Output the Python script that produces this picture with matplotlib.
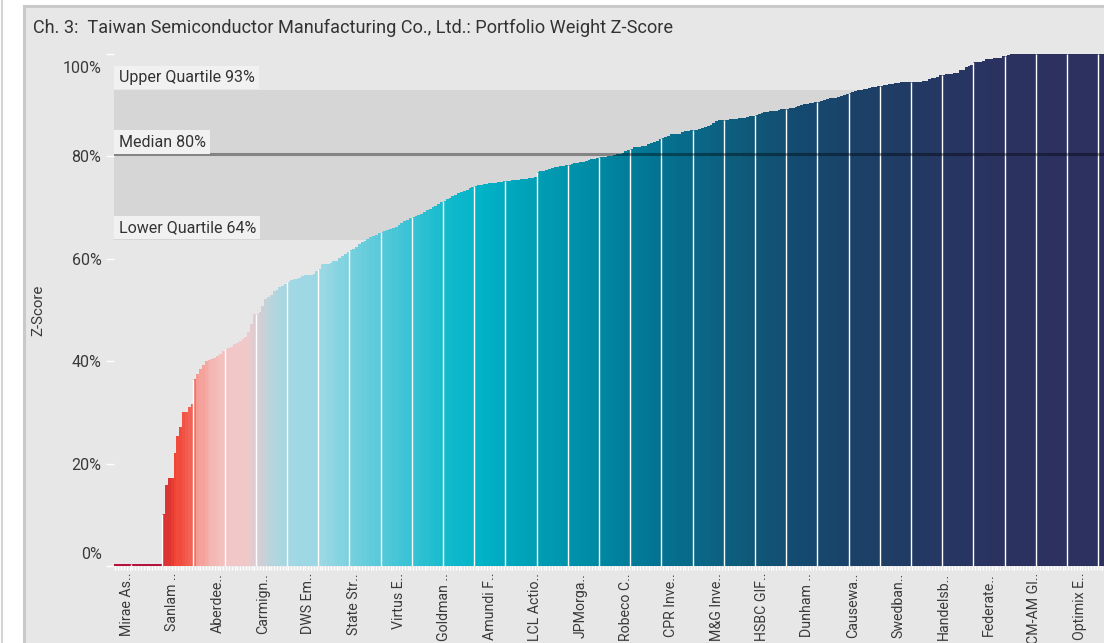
import numpy as np
import matplotlib
matplotlib.use("Agg")
from matplotlib import pyplot as plt
from matplotlib.colors import LinearSegmentedColormap
from matplotlib.patches import Rectangle
from matplotlib.lines import Line2D
from matplotlib.ticker import FuncFormatter, FixedLocator
from matplotlib.transforms import ScaledTranslation

plt.rcParams['font.family'] = ['Roboto', 'DejaVu Sans']

title = 'Ch. 3:  Taiwan Semiconductor Manufacturing Co., Ltd.: Portfolio Weight Z-Score'
y_label = 'Z-Score'

# one bar per fund, sorted ascending (values in %)
z_scores = [
    0, 0, 0, 0, 0, 0, 0, 0, 0, 0, 0, 0, 0, 0, 0, 0,
    0, 10.2, 15.8, 17.2, 17.2, 22.1, 25.4, 27.1, 30.1, 30.1, 31.1, 31.6, 36.5, 37.5, 38.5, 39.3,
    40.0, 40.3, 40.5, 40.7, 41.0, 41.5, 42.0, 42.3, 42.6, 42.8, 43.4, 43.6, 44.0, 44.3, 44.7, 45.7,
    47.3, 49.2, 49.2, 49.6, 50.8, 52.1, 52.5, 52.9, 53.7, 53.9, 54.5, 54.7, 55.1, 55.5, 55.9, 56.1,
    56.1, 56.3, 56.6, 56.8, 56.8, 56.8, 57.0, 57.6, 58.0, 59.0, 59.0, 59.0, 59.2, 59.6, 59.6, 60.2,
    60.5, 61.0, 61.3, 61.7, 62.0, 62.4, 62.8, 63.2, 63.5, 63.9, 64.2, 64.4, 64.7, 65.0, 65.3, 65.5,
    65.7, 65.9, 66.1, 66.3, 66.6, 66.9, 67.3, 67.6, 67.9, 68.1, 68.3, 68.5, 68.8, 69.1, 69.5, 69.8,
    70.1, 70.4, 70.7, 71.0, 71.3, 71.6, 71.9, 72.2, 72.5, 72.8, 73.0, 73.3, 73.5, 73.8, 74.0, 74.2,
    74.4, 74.5, 74.6, 74.7, 74.8, 74.8, 74.9, 75.0, 75.0, 75.1, 75.2, 75.2, 75.3, 75.4, 75.4, 75.5,
    75.6, 75.6, 75.7, 75.8, 76.0, 77.0, 77.1, 77.2, 77.4, 77.6, 77.8, 77.9, 78.0, 78.1, 78.2, 78.3,
    78.4, 78.6, 78.7, 78.8, 78.9, 79.0, 79.1, 79.2, 79.4, 79.5, 79.6, 79.8, 79.9, 79.9, 80.0, 80.1,
    80.3, 80.5, 80.5, 80.7, 81.0, 81.2, 81.4, 81.8, 81.8, 81.9, 82.0, 82.1, 82.4, 82.6, 82.8, 83.0,
    83.4, 83.6, 83.8, 84.0, 84.3, 84.4, 84.4, 84.4, 84.7, 84.9, 85.0, 85.2, 85.2, 85.2, 85.4, 85.5,
    85.7, 85.9, 86.1, 86.6, 87.0, 87.1, 87.1, 87.1, 87.2, 87.3, 87.3, 87.4, 87.5, 87.5, 87.5, 87.6,
    87.9, 87.9, 88.0, 88.2, 88.5, 88.6, 88.7, 88.9, 88.9, 88.9, 89.0, 89.3, 89.3, 89.3, 89.4, 89.5,
    89.6, 89.9, 90.1, 90.2, 90.3, 90.4, 90.5, 90.6, 90.7, 90.8, 91.0, 91.2, 91.4, 91.5, 91.5, 91.6,
    91.7, 91.9, 92.1, 92.3, 92.5, 92.7, 92.9, 93.0, 93.1, 93.2, 93.4, 93.5, 93.6, 93.7, 93.8, 93.9,
    94.0, 94.1, 94.2, 94.3, 94.4, 94.5, 94.5, 94.5, 94.5, 94.5, 94.5, 94.5, 94.6, 94.7, 94.7, 95.1,
    95.3, 95.3, 95.5, 95.9, 95.9, 96.1, 96.1, 96.1, 96.2, 96.3, 96.9, 96.9, 97.5, 97.7, 97.9, 98.4,
    98.4, 98.5, 98.6, 99.0, 99.0, 99.1, 99.2, 99.2, 99.2, 99.6, 99.6, 99.8, 100, 100, 100, 100,
    100, 100, 100, 100, 100, 100, 100, 100, 100, 100, 100, 100, 100, 100, 100, 100,
    100, 100, 100, 100, 100, 100, 100, 100, 100, 100, 100, 100, 100,
]

# every 16th fund gets a label, starting with the 5th
fund_labels = ['Mirae As..', 'Sanlam ..', 'Aberdee..', 'Carmign..', 'DWS Em..', 'State Str..',
               'Virtus E..', 'Goldman ..', 'Amundi F..', 'LCL Actio..', 'JPMorga..', 'Robeco C..',
               'CPR Inve..', 'M&G Inve..', 'HSBC GIF..', 'Dunham ..', 'Causewa..', 'Swedban..',
               'Handelsb..', 'Federate..', 'CM-AM Gl..', 'Optimix E..']

upper_quartile = 93.0
median = 80.4
lower_quartile = 63.7

values = np.array(z_scores, dtype=float)
n = len(values)
x = np.arange(n)

# gradient along the sorted funds
stops = [(0.00, '#d83232'), (0.049, '#d83232'), (0.058, '#f04234'), (0.078, '#f26a5c'),
         (0.081, '#f49890'), (0.098, '#f4b8b4'), (0.112, '#f2c6c6'), (0.132, '#f0c8c8'),
         (0.147, '#cdd0d6'), (0.158, '#b4d6de'), (0.178, '#a0d8e4'), (0.21, '#9ad8e4'),
         (0.238, '#76d0de'), (0.29, '#40c4d6'), (0.339, '#10bacc'), (0.371, '#00b2c6'),
         (0.422, '#00a0b6'), (0.491, '#0088a2'), (0.543, '#037594'), (0.595, '#0a6686'),
         (0.644, '#0f5878'), (0.695, '#154a70'), (0.747, '#1a4268'), (0.796, '#203c64'),
         (0.848, '#263662'), (0.897, '#2b3260'), (1.00, '#2c3160')]
cmap = LinearSegmentedColormap.from_list('zs', stops)
colors = [cmap(i / (n - 1)) for i in x]

W, H = 1104, 643
fig = plt.figure(figsize=(W / 100, H / 100), dpi=100, facecolor='white')

# panel frame, behind the axes
fig.patches.append(Rectangle((23.5 / W, -0.05), 1.1, (H - 5.5) / H + 0.05, transform=fig.transFigure,
                             facecolor='#e7e7e7', edgecolor='#c9c9c9', linewidth=2.2, zorder=-2))
fig.lines.append(Line2D([1.5 / W, 1.5 / W], [0, 1], transform=fig.transFigure, color='#d4d4d4',
                        lw=1.5, zorder=-2))

ax = fig.add_axes([114 / W, 1 - 566 / H, 1 - 114 / W, (566 - 54) / H])
ax.patch.set_alpha(0)

ax.axhspan(lower_quartile, upper_quartile, color='#d6d6d6', zorder=0, lw=0)

zero = values == 0
ax.bar(x[~zero], values[~zero], width=1.0, color=[c for c, z in zip(colors, zero) if not z],
       linewidth=0, zorder=2)
ax.bar(x[zero], np.full(zero.sum(), 0.35), width=1.0, color='#b5123e', linewidth=0, zorder=2)

# thin white separators every 11 funds
sep = np.arange(5.5, n - 1, 11)
sep_h = [max(values[int(s - 0.5)], values[int(s + 0.5)], 0.4) for s in sep]
ax.vlines(sep, 0, sep_h, color='white', lw=1.0, zorder=3)

ax.axhline(median, color='black', alpha=0.38, lw=2.2, zorder=4)

for val, name in [(upper_quartile, 'Upper Quartile'), (median, 'Median'), (lower_quartile, 'Lower Quartile')]:
    ax.annotate('{} {:.0f}%'.format(name, val), xy=(0, val), xycoords=('axes fraction', 'data'),
                xytext=(3.3, 3.4), textcoords='offset points', ha='left', va='bottom',
                fontsize=11.5, color='#333333', zorder=5,
                bbox=dict(boxstyle='square,pad=0.26', fc='#f1f1f1', ec='none'))

ax.set_xlim(-0.5, -0.5 + (W - 114) / 2.836)
ax.set_ylim(0, 100)

ax.set_yticks([0, 20, 40, 60, 80, 100])
ax.yaxis.set_major_formatter(FuncFormatter(lambda v, p: '{:.0f}%'.format(v)))
ax.tick_params(axis='y', colors='white', labelcolor='#3a3a3a', length=6, width=1, labelsize=11.5, pad=3)
ylabels = ax.get_yticklabels()
ylabels[0].set_transform(ylabels[0].get_transform() + ScaledTranslation(0, 13 / 100, fig.dpi_scale_trans))
ylabels[-1].set_transform(ylabels[-1].get_transform() + ScaledTranslation(0, -13 / 100, fig.dpi_scale_trans))

label_pos = np.arange(4, n, 16)[:len(fund_labels)]
ax.set_xticks(label_pos)
ax.set_xticklabels(fund_labels, rotation=90, fontsize=10.2, color='#3a3a3a')
ax.xaxis.set_minor_locator(FixedLocator(x))
ax.tick_params(axis='x', which='both', colors='white', labelcolor='#3a3a3a', length=3, width=1, pad=2)

for s in ax.spines.values():
    s.set_visible(False)

ax.set_ylabel(y_label, fontsize=10.8, color='#3a3a3a')
ax.yaxis.set_label_coords(-(114 - 45) / (W - 114), 0.5)

fig.text(33 / W, 1 - 28 / H, title, fontsize=13.1, color='#333333', ha='left', va='center')

fig.savefig('out.png', dpi=100, facecolor='white')
